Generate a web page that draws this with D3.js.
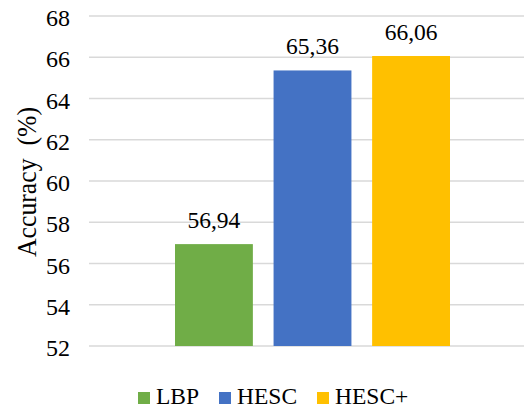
<!DOCTYPE html>
<html>
<head>
<meta charset="utf-8">
<script src="https://cdn.jsdelivr.net/npm/d3@7"></script>
</head>
<body style="margin:0">
<svg id="chart" width="524" height="409" font-family="Liberation Serif"></svg>
<script>
// Accuracy of each descriptor
const methods = ["LBP", "HESC", "HESC+"];
const accuracy = [56.94, 65.36, 66.06];
const valueLabels = ["56,94", "65,36", "66,06"];
const colors = ["#70AD47", "#4472C4", "#FFC000"];
const yTicks = [52, 54, 56, 58, 60, 62, 64, 66, 68];

const FONT = "Liberation Serif";
const svg = d3.select("#chart");
const plot = { left: 89, right: 524, top: 16, bottom: 346 };

const y = d3.scaleLinear().domain([52, 68]).range([plot.bottom, plot.top]);
const x = d3.scaleBand().domain(methods).range([175, 450]).paddingInner(0.21).paddingOuter(0);

// horizontal gridlines
svg.append("g")
  .selectAll("line")
  .data(yTicks)
  .join("line")
  .attr("x1", plot.left).attr("x2", plot.right)
  .attr("y1", d => y(d)).attr("y2", d => y(d))
  .attr("stroke", "#d9d9d9").attr("stroke-width", 1.5);

// y axis tick labels
const yAxis = d3.axisLeft(y).tickValues(yTicks).tickSize(0).tickPadding(0).tickFormat(d3.format("d"));
const gy = svg.append("g").attr("transform", "translate(70,0)").call(yAxis);
gy.attr("font-family", FONT).attr("font-size", 24);
gy.select(".domain").remove();
gy.selectAll("text")
  .attr("font-family", FONT)
  .attr("font-size", 24).attr("fill", "#000")
  .attr("dy", "0.4em");

// axis title
svg.append("text")
  .attr("transform", "translate(36,182) rotate(-90)")
  .attr("text-anchor", "middle")
  .attr("font-family", FONT)
  .attr("font-size", 27).attr("fill", "#000")
  .attr("xml:space", "preserve")
  .attr("textLength", 150)
  .attr("lengthAdjust", "spacingAndGlyphs")
  .text("Accuracy  (%)");

// bars
svg.append("g")
  .selectAll("rect")
  .data(methods)
  .join("rect")
  .attr("x", d => x(d))
  .attr("width", x.bandwidth())
  .attr("y", (d, i) => y(accuracy[i]))
  .attr("height", (d, i) => y(52) - y(accuracy[i]))
  .attr("fill", (d, i) => colors[i]);

// value labels
svg.append("g")
  .selectAll("text")
  .data(methods)
  .join("text")
  .attr("x", d => x(d) + x.bandwidth() / 2)
  .attr("y", (d, i) => y(accuracy[i]) - 16)
  .attr("text-anchor", "middle")
  .attr("font-family", FONT)
  .attr("font-size", 23.5).attr("fill", "#000")
  .text((d, i) => valueLabels[i]);

// legend
const legendX = [138, 219, 317];
const legend = svg.append("g")
  .selectAll("g")
  .data(methods)
  .join("g")
  .attr("transform", (d, i) => `translate(${legendX[i]},392)`);
legend.append("rect").attr("width", 12).attr("height", 12).attr("fill", (d, i) => colors[i]);
legend.append("text")
  .attr("x", 18).attr("y", 12)
  .attr("font-family", FONT)
  .attr("font-size", 23.5).attr("fill", "#000")
  .text(d => d);
</script>
</body>
</html>
